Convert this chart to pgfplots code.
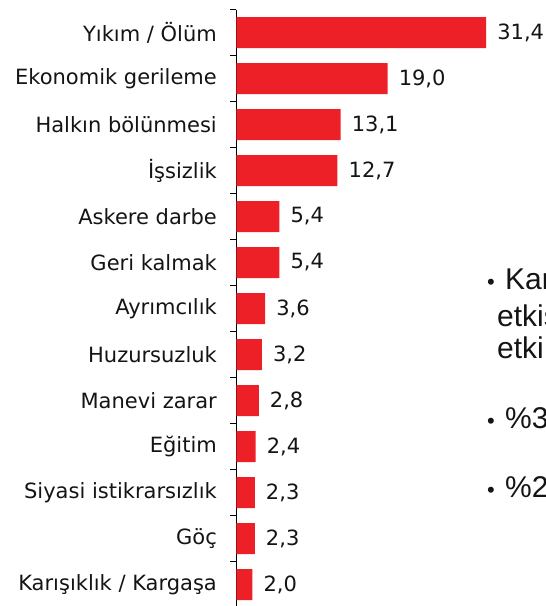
\documentclass[border=0pt]{standalone}
\usepackage{pgfplots}
\pgfplotsset{compat=1.18}
\usepackage{fontspec}
\setmainfont{DejaVu Sans}
\newfontfamily\arialf{Liberation Sans}
\definecolor{barred}{RGB}{237,32,39}
\definecolor{txt}{RGB}{20,20,20}
\begin{document}
\begin{tikzpicture}
\begin{axis}[
  at={(236.5pt,-1.5pt)}, anchor=south west,
  scale only axis,
  width=302.1pt, height=598pt,
  xbar, bar width=31pt,
  xmin=0, xmax=38,
  ymin=-0.5, ymax=12.5,
  y dir=reverse,
  axis x line=none,
  axis y line*=left,
  axis line style={black, line width=0.8pt},
  ytick={0,...,12},
  yticklabels={Yıkım / Ölüm, Ekonomik gerileme, Halkın bölünmesi, İşsizlik, Askere darbe, Geri kalmak, Ayrımcılık, Huzursuzluk, Manevi zarar, Eğitim, Siyasi istikrarsızlık, Göç, Karışıklık / Kargaşa},
  minor ytick={-0.5,0.5,...,12.5},
  tick align=outside,
  major tick length=0pt,
  minor tick length=6pt,
  minor tick style={black, line width=0.6pt},
  yticklabel style={font=\fontsize{21}{24}\selectfont, text=txt, anchor=east, inner sep=0pt, xshift=-19.5pt},
  nodes near coords,
  every node near coord/.append style={font=\fontsize{21}{24}\selectfont, text=txt, anchor=west, inner sep=0pt, xshift=11pt},
  /pgf/number format/.cd, use comma, fixed, fixed zerofill, precision=1, assume math mode=true,
]
\addplot[fill=barred, draw=none] coordinates {
 (31.4,0) (19.0,1) (13.1,2) (12.7,3) (5.4,4) (5.4,5) (3.6,6) (3.2,7) (2.8,8) (2.4,9) (2.3,10) (2.3,11) (2.0,12)
};
\end{axis}
\begin{scope}[every node/.style={inner sep=0pt, text=txt}]
\node[anchor=base west, font=\arialf\fontsize{30}{33}\selectfont] at (505pt,316pt) {Kar};
\node[anchor=base west, font=\arialf\fontsize{30}{33}\selectfont] at (497pt,279pt) {etkis};
\node[anchor=base west, font=\arialf\fontsize{30}{33}\selectfont] at (497pt,247pt) {etki};
\node[anchor=base west, font=\arialf\fontsize{30}{33}\selectfont] at (505pt,177pt) {\%3};
\node[anchor=base west, font=\arialf\fontsize{30}{33}\selectfont] at (505pt,108pt) {\%2};
\node[anchor=base, font=\arialf\fontsize{22}{22}\selectfont] at (491pt,316pt) {•};
\node[anchor=base, font=\arialf\fontsize{22}{22}\selectfont] at (491pt,177pt) {•};
\node[anchor=base, font=\arialf\fontsize{22}{22}\selectfont] at (491pt,108pt) {•};
\end{scope}
\pgfresetboundingbox
\path[use as bounding box] (0,0) rectangle (546pt,606pt);
\end{tikzpicture}
\end{document}
